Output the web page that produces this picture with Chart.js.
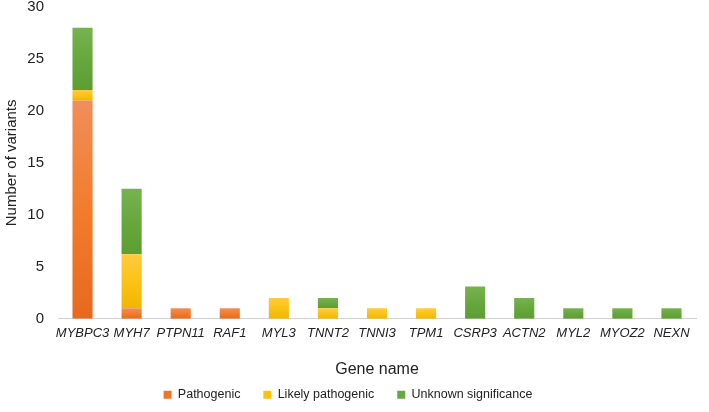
<!DOCTYPE html>
<html>
<head>
<meta charset="utf-8">
<script src="https://cdn.jsdelivr.net/npm/chart.js@4/dist/chart.umd.min.js"></script>
<style>
  html, body { margin: 0; padding: 0; background: #fff; }
  #chart { display: block; }
</style>
</head>
<body>
<canvas id="chart" width="709" height="412"></canvas>
<script>
var genes = ["MYBPC3", "MYH7", "PTPN11", "RAF1", "MYL3", "TNNT2", "TNNI3", "TPM1", "CSRP3", "ACTN2", "MYL2", "MYOZ2", "NEXN"];
var pathogenic = [21, 1, 1, 1, 0, 0, 0, 0, 0, 0, 0, 0, 0];
var likelyPathogenic = [1, 5.2, 0, 0, 2, 1, 1, 1, 0, 0, 0, 0, 0];
var unknownSignificance = [6, 6.3, 0, 0, 0, 1, 0, 0, 3.1, 2, 1, 1, 1];
var yTicks = [0, 5, 10, 15, 20, 25, 30];

var series = [pathogenic, likelyPathogenic, unknownSignificance];
var font = "'Liberation Sans', Arial, Helvetica, sans-serif";

// each stacked segment gets its own soft top-to-bottom shading
function shade(dark, mid, light) {
  return function(c) {
    var chart = c.chart;
    if (!chart.chartArea || c.type !== "data") return mid;
    var i = c.dataIndex;
    var start = 0;
    for (var k = 0; k < c.datasetIndex; k++) start += series[k][i];
    var end = start + series[c.datasetIndex][i];
    var y = chart.scales.y;
    var g = chart.ctx.createLinearGradient(0, y.getPixelForValue(start), 0, y.getPixelForValue(end));
    g.addColorStop(0, dark);
    g.addColorStop(0.5, mid);
    g.addColorStop(1, light);
    return g;
  };
}

var ctx = document.getElementById("chart");
var chart = new Chart(ctx, {
  type: "bar",
  data: {
    labels: genes,
    datasets: [{
      label: "Pathogenic",
      data: pathogenic,
      backgroundColor: shade("#E8691E", "#F27C2C", "#F08E5A")
    }, {
      label: "Likely pathogenic",
      data: likelyPathogenic,
      backgroundColor: shade("#F0B600", "#FDC216", "#FFCB3E")
    }, {
      label: "Unknown significance",
      data: unknownSignificance,
      backgroundColor: shade("#5C9E31", "#67A83C", "#77B250")
    }]
  },
  options: {
    responsive: false,
    animation: false,
    datasets: {
      bar: { barPercentage: 0.41, categoryPercentage: 1.0 }
    },
    layout: { padding: { top: 0, right: 13, bottom: 1, left: 0 } },
    plugins: {
      tooltip: { enabled: false },
      legend: {
        position: "bottom",
        labels: {
          boxWidth: 8,
          boxHeight: 8,
          padding: 23,
          color: "#222",
          font: { family: font, size: 12.5 },
          generateLabels: function(chart) {
            var colors = ["#EE7627", "#FCC10F", "#67A83C"];
            return Chart.defaults.plugins.legend.labels.generateLabels(chart).map(function(item, i) {
              item.fillStyle = colors[i];
              item.strokeStyle = colors[i];
              item.lineWidth = 0;
              return item;
            });
          }
        }
      }
    },
    scales: {
      x: {
        stacked: true,
        grid: { display: false, drawTicks: false, tickLength: 0 },
        border: { display: true, color: "#d0d0d0", width: 1 },
        ticks: {
          color: "#222",
          maxRotation: 0,
          autoSkip: false,
          padding: 7,
          font: { family: font, size: 13, style: "italic" }
        },
        title: {
          display: true,
          text: "Gene name",
          color: "#222",
          padding: { top: 12, bottom: -14 },
          font: { family: font, size: 16 }
        }
      },
      y: {
        stacked: true,
        min: 0,
        max: 30,
        grid: { display: false, drawTicks: false },
        border: { display: false },
        afterBuildTicks: function(axis) {
          axis.ticks = yTicks.map(function(v) { return { value: v }; });
        },
        afterFit: function(axis) {
          axis.width = 58;
          axis.paddingTop = 7;
        },
        ticks: {
          color: "#222",
          padding: 14,
          font: { family: font, size: 15 }
        },
        title: {
          display: true,
          text: "Number of variants",
          color: "#222",
          padding: { top: 3, bottom: 4 },
          font: { family: font, size: 15 }
        }
      }
    }
  }
});
</script>
</body>
</html>
